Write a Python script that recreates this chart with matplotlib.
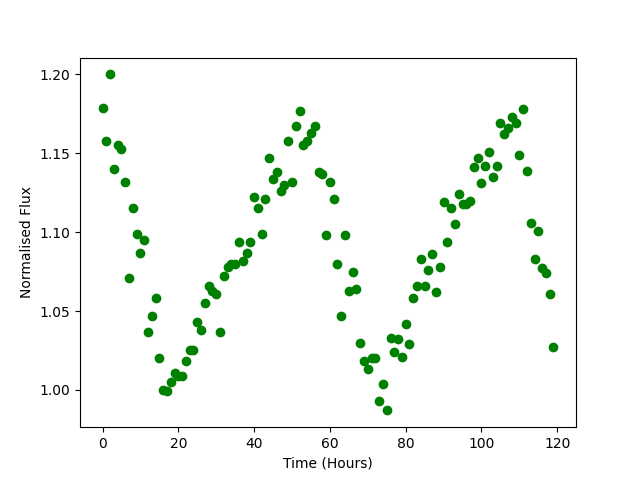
import matplotlib
matplotlib.use("Agg")
import matplotlib.pyplot as plt
import numpy as np

time_hours = list(range(120))
flux = [
    1.179, 1.158, 1.200, 1.140, 1.155, 1.153, 1.132, 1.071, 1.115, 1.099,
    1.087, 1.095, 1.037, 1.047, 1.058, 1.020, 1.000, 0.999, 1.005, 1.011,
    1.009, 1.009, 1.018, 1.025, 1.025, 1.043, 1.038, 1.055, 1.066, 1.063,
    1.061, 1.037, 1.072, 1.078, 1.080, 1.080, 1.094, 1.082, 1.087, 1.094,
    1.122, 1.115, 1.099, 1.121, 1.147, 1.134, 1.138, 1.126, 1.130, 1.158,
    1.132, 1.167, 1.177, 1.155, 1.158, 1.163, 1.167, 1.138, 1.137, 1.098,
    1.132, 1.121, 1.080, 1.047, 1.098, 1.063, 1.075, 1.064, 1.030, 1.018,
    1.013, 1.020, 1.020, 0.993, 1.004, 0.987, 1.033, 1.024, 1.032, 1.021,
    1.042, 1.029, 1.058, 1.066, 1.083, 1.066, 1.076, 1.086, 1.062, 1.078,
    1.119, 1.094, 1.115, 1.105, 1.124, 1.118, 1.118, 1.120, 1.141, 1.147,
    1.131, 1.142, 1.151, 1.135, 1.142, 1.169, 1.162, 1.166, 1.173, 1.169,
    1.149, 1.178, 1.139, 1.106, 1.083, 1.101, 1.077, 1.074, 1.061, 1.027,
]

fig, ax = plt.subplots(figsize=(6.4, 4.8), dpi=100)
ax.plot(time_hours, flux, 'o', color='green')
ax.set_xlabel('Time (Hours)')
ax.set_ylabel('Normalised Flux')
fig.savefig('out.png')
